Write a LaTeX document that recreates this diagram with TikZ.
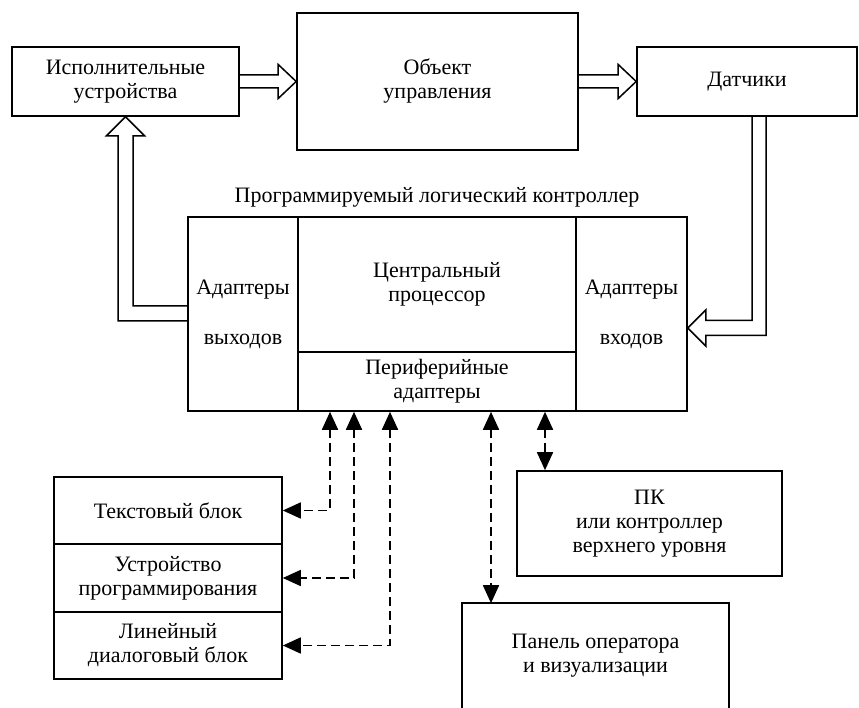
\documentclass[tikz,border=0pt]{standalone}
\usepackage{fontspec}
\setmainfont{Liberation Serif}
\usepackage{tikz}
\usetikzlibrary{positioning,calc,arrows.meta}

\begin{document}
\begin{tikzpicture}[x=1pt,y=-1pt,
    box/.style={draw, line width=1.6pt, align=center, inner sep=0pt,
        font=\fontsize{22}{24}\selectfont},
    fat/.style={line width=1.5pt, line join=miter},
    dsh/.style={line width=1.7pt, dash pattern=on 9pt off 5pt,
        {Triangle[length=18pt,width=16pt]}-{Triangle[length=18pt,width=16pt]}}]
    \useasboundingbox (0,0) rectangle (859,708);

    % upper row
    \node[box, minimum width=227pt, minimum height=69pt] (isp) at (125.5,81.5) {Исполнительные\\устройства};
    \node[box, minimum width=281pt, minimum height=137pt] (obj) at (437.5,81.5) {Объект\\управления};
    \node[box, minimum width=220pt, minimum height=69pt] (dat) at (747,81.5) {Датчики};

    % controller
    \node[font=\fontsize{22}{24}\selectfont] (plcname) at (437,197) {Программируемый логический контроллер};
    \node[box, minimum width=110pt, minimum height=194pt, font=\fontsize{22}{50}\selectfont] (outA) at (243,314) {Адаптеры\\выходов};
    \node[box, minimum width=278pt, minimum height=135pt] (cpu) at (437,284.5) {Центральный\\процессор};
    \node[box, minimum width=278pt, minimum height=59pt] (periph) at (437,381.5) {Периферийные\\адаптеры};
    \node[box, minimum width=111pt, minimum height=194pt, font=\fontsize{22}{50}\selectfont] (inA) at (631.5,314) {Адаптеры\\входов};

    % lower blocks
    \node[box, minimum width=228pt, minimum height=67pt] (tb) at (168,510.5) {Текстовый блок};
    \node[box, minimum width=228pt, minimum height=68pt] (prog) at (168,578) {Устройство\\программирования};
    \node[box, minimum width=228pt, minimum height=67pt] (lin) at (168,645.5) {Линейный\\диалоговый блок};
    \node[box, minimum width=265pt, minimum height=105pt] (pk) at (649.5,523.5) {ПК\\или контроллер\\верхнего уровня};
    \node[box, draw=none, minimum width=265pt, minimum height=104pt] (pan) at (595.5,656) {Панель оператора\\и визуализации};
    \draw[line width=1.6pt] (pan.south west) -- (pan.north west) -- (pan.north east) -- (pan.south east);

    % hollow arrows
    \draw[fat] ($(isp.east)+(0,-6.5)$) -- ($(obj.west)+(-18,-6.5)$) -- ($(obj.west)+(-18,-17)$) -- (obj.west)
        -- ($(obj.west)+(-18,17)$) -- ($(obj.west)+(-18,6.5)$) -- ($(isp.east)+(0,6.5)$);
    \draw[fat] ($(obj.east)+(0,-6.5)$) -- ($(dat.west)+(-18,-6.5)$) -- ($(dat.west)+(-18,-17)$) -- (dat.west)
        -- ($(dat.west)+(-18,17)$) -- ($(dat.west)+(-18,6.5)$) -- ($(obj.east)+(0,6.5)$);
    \draw[fat] ($(outA.west)+(0,-8)$) -| ($(isp.south)+(7.5,19)$) -- ($(isp.south)+(19,19)$) -- (isp.south)
        -- ($(isp.south)+(-19,19)$) -- ($(isp.south)+(-7.5,19)$) |- ($(outA.west)+(0,7)$);
    \draw[fat] ($(dat.south)+(5,0)$) |- ($(inA.east)+(18,6.5)$) -- ($(inA.east)+(18,-4)$) -- ($(inA.east)+(0,14)$)
        -- ($(inA.east)+(18,32)$) -- ($(inA.east)+(18,21.5)$) -| ($(dat.south)+(19,0)$);

    % dashed links
    \coordinate (pa) at ($(periph.south)+(-107,0)$);
    \coordinate (pb) at ($(periph.south)+(-83,0)$);
    \coordinate (pc) at ($(periph.south)+(-47,0)$);
    \coordinate (pd) at ($(periph.south)+(54,0)$);
    \coordinate (pe) at ($(periph.south)+(108,0)$);
    \draw[dsh] (pa) |- (tb.east);
    \draw[dsh] (pb) |- (prog.east);
    \draw[dsh] (pc) |- (lin.east);
    \draw[dsh] (pd) -- (pd |- pan.north);
    \draw[dsh] (pe) -- (pe |- pk.north);
\end{tikzpicture}
\end{document}
